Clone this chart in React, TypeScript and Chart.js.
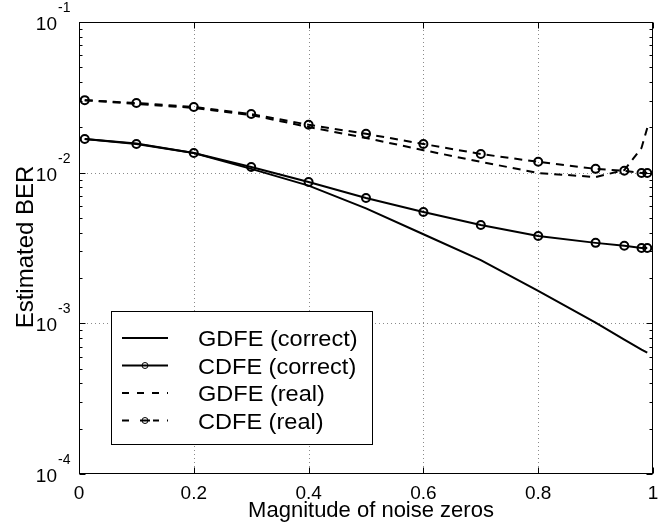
import React, { useEffect, useRef } from "react";
import { Chart, registerables } from "chart.js";

Chart.register(...registerables);

// ---- data ----
const magnitudes = [0.01, 0.1, 0.2, 0.3, 0.4, 0.5, 0.6, 0.7, 0.8, 0.9, 0.95, 0.98, 0.99];
const gdfeCorrect = [0.0167, 0.0156, 0.0135, 0.0106, 0.0082, 0.0058, 0.0039, 0.00263, 0.00164, 0.00101, 0.00078, 0.00067, 0.00064];
const cdfeCorrect = [0.01675, 0.0155, 0.0135, 0.0109, 0.00867, 0.00679, 0.00548, 0.0045, 0.0038, 0.00342, 0.00327, 0.00316, 0.00316];
const gdfeReal = [0.0303, 0.0286, 0.0269, 0.0241, 0.0201, 0.017, 0.0141, 0.0118, 0.00995, 0.00935, 0.0104, 0.0146, 0.0198];
const cdfeReal = [0.0303, 0.029, 0.0273, 0.0245, 0.0208, 0.0181, 0.0155, 0.0133, 0.0118, 0.0106, 0.0103, 0.00995, 0.00995];

const seriesLabels = ["GDFE (correct)", "CDFE (correct)", "GDFE (real)", "CDFE (real)"];
const xTickValues = [0, 0.2, 0.4, 0.6, 0.8, 1];
const xTickLabels = ["0", "0.2", "0.4", "0.6", "0.8", "1"];
const xGridValues = [0.2, 0.4, 0.6, 0.8];
const yDecadeExponents = [-4, -3, -2, -1];
const yTickExponentLabels = ["-4", "-3", "-2", "-1"];
const yGridExponents = [-3, -2];
const xTitle = "Magnitude of noise zeros";
const yTitle = "Estimated BER";

const FONT = "'Liberation Sans', Arial, Helvetica, sans-serif";
const DASH = [8, 6];

const framePlugin = {
  id: "frame",
  beforeDatasetsDraw(chart: any) {
    const { ctx, chartArea, scales } = chart;
    const { left, right, top, bottom } = chartArea;
    const x = scales.x;
    const y = scales.y;
    ctx.save();
    ctx.strokeStyle = "#8a8a8a";
    ctx.lineWidth = 1;
    ctx.setLineDash([1, 3]);
    for (const v of xGridValues) {
      const px = Math.round(x.getPixelForValue(v)) + 0.5;
      ctx.beginPath();
      ctx.moveTo(px, top);
      ctx.lineTo(px, bottom);
      ctx.stroke();
    }
    for (const e of yGridExponents) {
      const py = Math.round(y.getPixelForValue(Math.pow(10, e))) + 0.5;
      ctx.beginPath();
      ctx.moveTo(left, py);
      ctx.lineTo(right, py);
      ctx.stroke();
    }
    ctx.restore();
  },
  afterDatasetsDraw(chart: any) {
    const { ctx, chartArea, scales } = chart;
    const { left, right, top, bottom } = chartArea;
    const x = scales.x;
    const y = scales.y;
    ctx.save();
    ctx.setLineDash([]);
    ctx.strokeStyle = "#000";
    ctx.lineWidth = 1;
    // box
    const L = Math.round(left) + 0.5;
    const R = Math.round(right) - 0.5;
    const T = Math.round(top) + 0.5;
    const B = Math.round(bottom) - 0.5;
    ctx.strokeRect(L, T, R - L, B - T);
    // x ticks (inward)
    for (const v of xTickValues) {
      const px = Math.round(x.getPixelForValue(v)) + 0.5;
      ctx.beginPath();
      ctx.moveTo(px, B);
      ctx.lineTo(px, B - 6);
      ctx.moveTo(px, T);
      ctx.lineTo(px, T + 6);
      ctx.stroke();
    }
    // y ticks (major + minor)
    for (let i = 0; i < yDecadeExponents.length; i++) {
      const e = yDecadeExponents[i];
      const mults = i < yDecadeExponents.length - 1 ? [1, 2, 3, 4, 5, 6, 7, 8, 9] : [1];
      for (const m of mults) {
        const py = Math.round(y.getPixelForValue(m * Math.pow(10, e))) + 0.5;
        const len = m === 1 ? 6 : 3;
        ctx.beginPath();
        ctx.moveTo(L, py);
        ctx.lineTo(L + len, py);
        ctx.moveTo(R, py);
        ctx.lineTo(R - len, py);
        ctx.stroke();
      }
    }
    // x tick labels
    ctx.fillStyle = "#000";
    ctx.font = `19px ${FONT}`;
    ctx.textAlign = "center";
    ctx.textBaseline = "alphabetic";
    xTickValues.forEach((v, i) => {
      ctx.fillText(xTickLabels[i], x.getPixelForValue(v), bottom + 25);
    });
    // y tick labels 10^e
    yDecadeExponents.forEach((e, i) => {
      const py = y.getPixelForValue(Math.pow(10, e));
      ctx.font = `19px ${FONT}`;
      ctx.textAlign = "right";
      ctx.fillText("10", left - 22, py + 8);
      ctx.font = `14px ${FONT}`;
      ctx.textAlign = "left";
      ctx.fillText(yTickExponentLabels[i], left - 21, py - 10);
    });
    // axis titles
    ctx.font = `22px ${FONT}`;
    ctx.textAlign = "center";
    ctx.fillText(xTitle, (left + right) / 2 + 5, bottom + 43);
    ctx.save();
    ctx.translate(33, (top + bottom) / 2 - 1);
    ctx.rotate(-Math.PI / 2);
    ctx.font = `24px ${FONT}`;
    ctx.textAlign = "center";
    ctx.fillText(yTitle, 0, 0);
    ctx.restore();

    // legend
    const bx = 111.5, by = 311.5, bw = 261, bh = 133;
    ctx.fillStyle = "#fff";
    ctx.fillRect(bx, by, bw, bh);
    ctx.strokeStyle = "#000";
    ctx.lineWidth = 1;
    ctx.strokeRect(bx, by, bw, bh);
    const rows = [338, 365.5, 393, 420.5];
    chart.data.datasets.forEach((ds: any, i: number) => {
      const ry = rows[i];
      ctx.save();
      ctx.strokeStyle = "#000";
      ctx.lineWidth = 2;
      if (ds.borderDash && ds.borderDash.length) {
        ctx.setLineDash([7, 8]);
      } else {
        ctx.setLineDash([]);
      }
      ctx.beginPath();
      ctx.moveTo(122, ry);
      ctx.lineTo(168, ry);
      ctx.stroke();
      if (ds.pointRadius > 0) {
        ctx.setLineDash([]);
        if (ds.borderDash && ds.borderDash.length) {
          ctx.fillStyle = "#fff";
          ctx.fillRect(137, ry - 4, 16, 8);
          ctx.lineWidth = 2;
          ctx.beginPath();
          ctx.moveTo(140, ry);
          ctx.lineTo(150, ry);
          ctx.stroke();
        }
        ctx.lineWidth = 1;
        ctx.beginPath();
        ctx.arc(145, ry, 3, 0, Math.PI * 2);
        ctx.stroke();
      }
      ctx.fillStyle = "#000";
      ctx.font = `22px ${FONT}`;
      ctx.textAlign = "left";
      ctx.translate(198, ry + 8);
      ctx.scale(1.07, 1);
      ctx.fillText(ds.label, 0, 0);
      ctx.restore();
    });
    ctx.restore();
  },
};

export default function App() {
  const canvasRef = useRef<HTMLCanvasElement | null>(null);

  useEffect(() => {
    const canvas = canvasRef.current;
    if (!canvas) return;
    const mk = (vals: number[]) => magnitudes.map((m, i) => ({ x: m, y: vals[i] }));
    const chart = new Chart(canvas, {
      type: "line",
      data: {
        datasets: [
          {
            label: seriesLabels[0],
            data: mk(gdfeCorrect),
            borderColor: "#000",
            borderWidth: 2,
            pointRadius: 0,
            borderDash: [],
            fill: false,
          },
          {
            label: seriesLabels[1],
            data: mk(cdfeCorrect),
            borderColor: "#000",
            borderWidth: 2,
            pointRadius: 4,
            pointBorderWidth: 2,
            pointBorderColor: "#000",
            pointBackgroundColor: "rgba(0,0,0,0)",
            borderDash: [],
            fill: false,
          },
          {
            label: seriesLabels[2],
            data: mk(gdfeReal),
            borderColor: "#000",
            borderWidth: 2,
            pointRadius: 0,
            borderDash: DASH,
            fill: false,
          },
          {
            label: seriesLabels[3],
            data: mk(cdfeReal),
            borderColor: "#000",
            borderWidth: 2,
            pointRadius: 4,
            pointBorderWidth: 2,
            pointBorderColor: "#000",
            pointBackgroundColor: "rgba(0,0,0,0)",
            borderDash: DASH,
            fill: false,
          },
        ],
      },
      options: {
        animation: false,
        responsive: false,
        devicePixelRatio: 1,
        events: [],
        layout: { padding: { left: 0, right: 4, top: 22, bottom: 0 } },
        elements: { line: { tension: 0 } },
        plugins: {
          legend: { display: false },
          tooltip: { enabled: false },
        },
        scales: {
          x: {
            type: "linear",
            min: 0,
            max: 1,
            ticks: { display: false },
            grid: { display: false },
            border: { display: false },
            title: { display: false },
            afterFit: (scale: any) => {
              scale.height = 50;
            },
          },
          y: {
            type: "logarithmic",
            min: 1e-4,
            max: 1e-1,
            ticks: { display: false },
            grid: { display: false },
            border: { display: false },
            title: { display: false },
            afterFit: (scale: any) => {
              scale.width = 79;
            },
          },
        },
      },
      plugins: [framePlugin],
    } as any);
    return () => chart.destroy();
  }, []);

  return (
    <div style={{ position: "fixed", left: 0, top: 0, width: 659, height: 524, background: "#fff" }}>
      <canvas ref={canvasRef} width={659} height={524} style={{ width: 659, height: 524, display: "block" }} />
    </div>
  );
}
